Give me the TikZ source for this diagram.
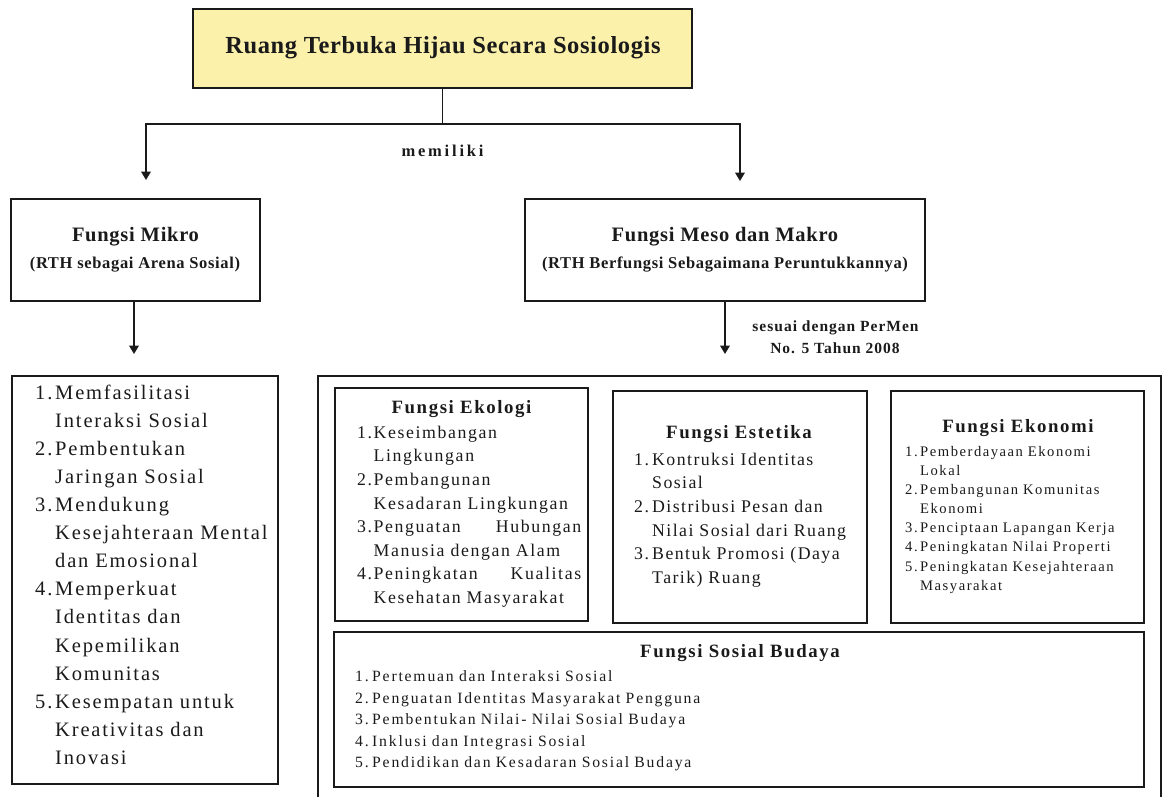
\documentclass[tikz,border=0pt]{standalone}
\usepackage{fontspec}
\setmainfont{Liberation Serif}
\usetikzlibrary{arrows.meta}
\definecolor{titlefill}{RGB}{251,241,170}
\definecolor{ink}{RGB}{26,26,26}
\newlength\numw
\newcommand\listnum[1]{\makebox[\numw][l]{#1}}
\newcommand\listcont{\hspace*{\numw}}
\begin{document}
\begin{tikzpicture}[x=1pt,y=-1pt,
  box/.style={draw=ink, line width=1.9pt, inner sep=0pt},
  link/.style={draw=ink, line width=1.9pt},
  arr/.style={link, -{Triangle[length=8.5pt,width=9.5pt]}},
  label/.style={inner sep=0pt, anchor=base, text=ink},
  itemlist/.style={inner sep=0pt, anchor=north west, align=left, text=ink},
  bighead/.style={label, font=\fontsize{20.5}{24}\selectfont\bfseries\addfontfeature{LetterSpace=3.5}},
  subhead/.style={label, font=\fontsize{16.5}{20}\selectfont\bfseries\addfontfeature{LetterSpace=4}},
  boxhead/.style={label, font=\fontsize{18.8}{22}\selectfont\bfseries\addfontfeature{LetterSpace=8.5}},
  note/.style={label, font=\fontsize{15.5}{18}\selectfont\bfseries\addfontfeature{LetterSpace=6.5}},
]
\useasboundingbox (0,0) rectangle (1164,796);

% top concept
\node[box, fill=titlefill, minimum width=499pt, minimum height=79pt] (title) at (442.5,48.5) {};
\node[label, font=\fontsize{24.5}{28}\selectfont\bfseries\addfontfeature{LetterSpace=2.5}] (titleText) at (443,53.3) {Ruang Terbuka Hijau Secara Sosiologis};

% two function groups
\node[box, minimum width=249pt, minimum height=102pt] (mikro) at (135.5,250) {};
\node[bighead] (mikroHead) at (135.5,241.6) {Fungsi Mikro};
\node[subhead] (mikroSub) at (135,268.3) {(RTH sebagai Arena Sosial)};

\node[box, minimum width=400pt, minimum height=102pt] (meso) at (725,250) {};
\node[bighead] (mesoHead) at (725,241.6) {Fungsi Meso dan Makro};
\node[subhead] (mesoSub) at (725,268.3) {(RTH Berfungsi Sebagaimana Peruntukkannya)};

% branching connectors
\coordinate (split) at (442.5,124);
\draw[link] (title.south) -- (split);
\draw[arr, shorten >=18pt] (split) -| ([xshift=10.5pt]mikro.north);
\draw[arr, shorten >=17pt] (split) -| ([xshift=15pt]meso.north);
\node[label, font=\fontsize{16.5}{18}\selectfont\bfseries\addfontfeature{LetterSpace=17}] (has) at (442.5,156) {memiliki};

% micro functions list
\node[box, minimum width=266pt, minimum height=408pt] (mlist) at (145,580) {};
\draw[arr, shorten >=21pt] ([xshift=-1.5pt]mikro.south) -- ([xshift=-1.5pt]mikro.south |- mlist.north);
\node[itemlist, text width=243pt, font=\fontsize{20.5}{28.1}\selectfont\addfontfeature{LetterSpace=9}] (mitems) at (35,379.3) {\setlength\numw{20pt}\strut
\listnum{1.}Memfasilitasi\\
\listcont Interaksi Sosial\\
\listnum{2.}Pembentukan\\
\listcont Jaringan Sosial\\
\listnum{3.}Mendukung\\
\listcont Kesejahteraan Mental\\
\listcont dan Emosional\\
\listnum{4.}Memperkuat\\
\listcont Identitas dan\\
\listcont Kepemilikan\\
\listcont Komunitas\\
\listnum{5.}Kesempatan untuk\\
\listcont Kreativitas dan\\
\listcont Inovasi};

% meso and macro container
\node[box, minimum width=843pt, minimum height=440pt] (cont) at (739.5,596) {};
\draw[arr, shorten >=21pt] (meso.south) -- (meso.south |- cont.north);
\node[note] (rule1) at (835.5,331.7) {sesuai dengan PerMen};
\node[note] (rule2) at (835,353.3) {No. 5 Tahun 2008};

% ecological function
\node[box, minimum width=253pt, minimum height=233pt] (eko) at (461.5,504.5) {};
\node[boxhead] (ekoHead) at (461.5,413) {Fungsi Ekologi};
\node[itemlist, text width=224pt, font=\fontsize{17.8}{23.6}\selectfont\addfontfeature{LetterSpace=9}] (ekoItems) at (357,421.5) {\setlength\numw{16.5pt}\strut
\listnum{1.}Keseimbangan\\
\listcont Lingkungan\\
\listnum{2.}Pembangunan\\
\listcont Kesadaran Lingkungan\\
\listnum{3.}Penguatan\hfill Hubungan\\
\listcont Manusia dengan Alam\\
\listnum{4.}Peningkatan\hfill Kualitas\\
\listcont Kesehatan Masyarakat};

% aesthetic function
\node[box, minimum width=254pt, minimum height=232pt] (est) at (740,507) {};
\node[boxhead] (estHead) at (739,438) {Fungsi Estetika};
\node[itemlist, text width=228pt, font=\fontsize{17.8}{23.6}\selectfont\addfontfeature{LetterSpace=8}] (estItems) at (634,448.5) {\setlength\numw{18pt}\strut
\listnum{1.}Kontruksi Identitas\\
\listcont Sosial\\
\listnum{2.}Distribusi Pesan dan\\
\listcont Nilai Sosial dari Ruang\\
\listnum{3.}Bentuk Promosi (Daya\\
\listcont Tarik) Ruang};

% economic function
\node[box, minimum width=253pt, minimum height=232pt] (ekon) at (1017.5,507) {};
\node[boxhead] (ekonHead) at (1018,432) {Fungsi Ekonomi};
\node[itemlist, text width=235pt, font=\fontsize{14.6}{19.15}\selectfont\addfontfeature{LetterSpace=10.5}] (ekonItems) at (905,442.6) {\setlength\numw{15pt}\strut
\listnum{1.}Pemberdayaan Ekonomi\\
\listcont Lokal\\
\listnum{2.}Pembangunan Komunitas\\
\listcont Ekonomi\\
\listnum{3.}Penciptaan Lapangan Kerja\\
\listnum{4.}Peningkatan Nilai Properti\\
\listnum{5.}Peningkatan Kesejahteraan\\
\listcont Masyarakat};

% socio-cultural function
\node[box, minimum width=810pt, minimum height=155pt] (sos) at (739,709.5) {};
\node[boxhead] (sosHead) at (740,657) {Fungsi Sosial Budaya};
\node[itemlist, text width=700pt, font=\fontsize{15.7}{21.5}\selectfont\addfontfeature{LetterSpace=11.5}] (sosItems) at (355,666.6) {\setlength\numw{17pt}\strut
\listnum{1.}Pertemuan dan Interaksi Sosial\\
\listnum{2.}Penguatan Identitas Masyarakat Pengguna\\
\listnum{3.}Pembentukan Nilai- Nilai Sosial Budaya\\
\listnum{4.}Inklusi dan Integrasi Sosial\\
\listnum{5.}Pendidikan dan Kesadaran Sosial Budaya};
\end{tikzpicture}
\end{document}
